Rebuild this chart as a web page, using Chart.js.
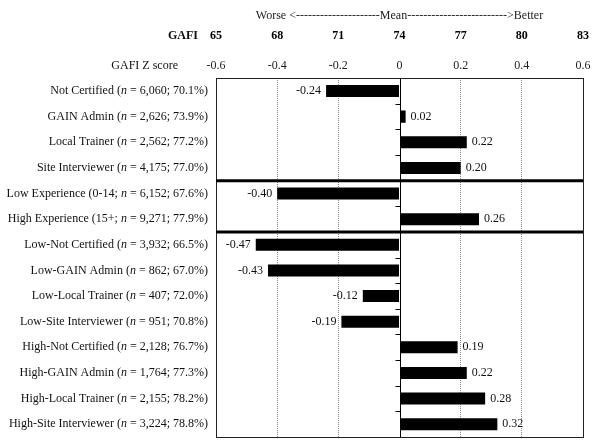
<!DOCTYPE html>
<html>
<head>
<meta charset="utf-8">
<script src="https://cdn.jsdelivr.net/npm/chart.js@4"></script>
<style>
  body { margin: 0; background: #fff; }
  #chart { display: block; }
</style>
</head>
<body>
<canvas id="chart" width="600" height="446"></canvas>
<script>
'use strict';

var categories = [
  'Not Certified (n = 6,060; 70.1%)',
  'GAIN Admin (n = 2,626; 73.9%)',
  'Local Trainer (n = 2,562; 77.2%)',
  'Site Interviewer (n = 4,175; 77.0%)',
  'Low Experience (0-14; n = 6,152; 67.6%)',
  'High Experience (15+; n = 9,271; 77.9%)',
  'Low-Not Certified (n = 3,932; 66.5%)',
  'Low-GAIN Admin (n = 862; 67.0%)',
  'Low-Local Trainer (n = 407; 72.0%)',
  'Low-Site Interviewer (n = 951; 70.8%)',
  'High-Not Certified (n = 2,128; 76.7%)',
  'High-GAIN Admin (n = 1,764; 77.3%)',
  'High-Local Trainer (n = 2,155; 78.2%)',
  'High-Site Interviewer (n = 3,224; 78.8%)'
];
var zScores = [-0.24, 0.02, 0.22, 0.20, -0.40, 0.26, -0.47, -0.43, -0.12, -0.19, 0.19, 0.22, 0.28, 0.32];
var gafiTicks = [65, 68, 71, 74, 77, 80, 83];
var groupBreaks = [4, 6]; // thick lines after these rows

var serif = '"Liberation Serif", "Times New Roman", serif';
var fs = 12;
var zPad = 5, gPad = 11;

// frame, zero line, group separators, value labels, row labels
var extras = {
  id: 'extras',
  beforeDatasetsDraw: function (chart) {
    var ctx = chart.ctx, a = chart.chartArea;
    var x = chart.scales.x;
    var x0 = Math.round(x.getPixelForValue(0)) + 0.5;
    var step = (a.bottom - a.top) / categories.length;
    ctx.save();
    ctx.strokeStyle = '#000';
    ctx.lineWidth = 1;
    ctx.beginPath();
    ctx.moveTo(x0, a.top);
    ctx.lineTo(x0, a.bottom);
    for (var i = 1; i < categories.length; i++) {
      var yy = Math.round(a.top + i * step) + 0.5;
      ctx.moveTo(x0 - 5, yy);
      ctx.lineTo(x0, yy);
    }
    ctx.stroke();
    ctx.restore();
  },
  afterDatasetsDraw: function (chart) {
    var ctx = chart.ctx, a = chart.chartArea;
    var step = (a.bottom - a.top) / categories.length;
    ctx.save();
    // frame
    ctx.strokeStyle = '#222';
    ctx.lineWidth = 1;
    ctx.strokeRect(Math.round(a.left) + 0.5, Math.round(a.top) + 0.5,
      Math.round(a.right - a.left), Math.round(a.bottom - a.top));
    // separators
    ctx.lineWidth = 3;
    ctx.strokeStyle = '#000';
    groupBreaks.forEach(function (b) {
      var yy = a.top + b * step;
      ctx.beginPath();
      ctx.moveTo(a.left, yy);
      ctx.lineTo(a.right, yy);
      ctx.stroke();
    });
    // value labels
    ctx.font = fs + 'px ' + serif;
    ctx.fillStyle = '#111';
    ctx.textBaseline = 'middle';
    chart.getDatasetMeta(0).data.forEach(function (bar, i) {
      var v = zScores[i];
      ctx.textAlign = v < 0 ? 'right' : 'left';
      ctx.fillText(v.toFixed(2), bar.x + (v < 0 ? -5 : 5), bar.y);
    });
    // row labels with italic n
    var y = chart.scales.y;
    ctx.textAlign = 'left';
    categories.forEach(function (lab, i) {
      var m = lab.match(/^(.*[(; ])n( = .*)$/);
      var parts = m ? [[m[1], ''], ['n', 'italic '], [m[2], '']] : [[lab, '']];
      var w = 0;
      parts.forEach(function (p) { ctx.font = p[1] + fs + 'px ' + serif; w += ctx.measureText(p[0]).width; });
      var xx = a.left - 8 - w;
      var yy = y.getPixelForValue(i);
      parts.forEach(function (p) {
        ctx.font = p[1] + fs + 'px ' + serif;
        ctx.fillText(p[0], xx, yy);
        xx += ctx.measureText(p[0]).width;
      });
    });
    // axis names
    var xs = chart.scales.x, xg = chart.scales.xg;
    var lh = fs * 1.2 / 2;
    ctx.textAlign = 'right';
    ctx.font = 'bold ' + fs + 'px ' + serif;
    ctx.fillText('GAFI', 198, xg.bottom - gPad - lh);
    ctx.font = fs + 'px ' + serif;
    ctx.fillText('GAFI Z score', 178, xs.bottom - zPad - lh);
    ctx.restore();
  }
};

new Chart(document.getElementById('chart'), {
  type: 'bar',
  data: {
    labels: categories,
    datasets: [{
      data: zScores,
      backgroundColor: '#000',
      borderWidth: 0,
      barPercentage: 0.94,
      categoryPercentage: 0.5
    }]
  },
  options: {
    indexAxis: 'y',
    responsive: false,
    animation: false,
    layout: { padding: { left: 216, right: 16, top: 9, bottom: 9 } },
    plugins: {
      legend: { display: false },
      tooltip: { enabled: false }
    },
    scales: {
      y: { display: false },
      x: {
        position: 'top',
        weight: 0,
        min: -0.6,
        max: 0.6,
        ticks: {
          stepSize: 0.2,
          padding: zPad,
          color: '#222',
          font: { family: serif, size: fs },
          callback: function (v) { return Math.abs(v) < 1e-9 ? '0' : v.toFixed(1); }
        },
        grid: {
          drawTicks: false,
          color: function (c) {
            var v = c.tick ? c.tick.value : 0;
            if (Math.abs(v) < 1e-9 || Math.abs(Math.abs(v) - 0.6) < 1e-9) return 'rgba(0,0,0,0)';
            return '#888';
          },
          lineWidth: 1
        },
        border: { display: false, dash: [1, 1] }
      },
      xg: {
        position: 'top',
        weight: 1,
        min: -0.6,
        max: 0.6,
        ticks: {
          stepSize: 0.2,
          padding: gPad,
          color: '#000',
          font: { family: serif, size: fs, weight: 'bold' },
          callback: function (v, i) { return gafiTicks[i]; }
        },
        grid: { display: false, drawTicks: false },
        border: { display: false },
        title: {
          display: true,
          text: 'Worse <---------------------Mean------------------------->Better',
          color: '#222',
          font: { family: serif, size: fs },
          padding: { top: 0, bottom: -6 }
        }
      }
    }
  },
  plugins: [extras]
});
</script>
</body>
</html>
